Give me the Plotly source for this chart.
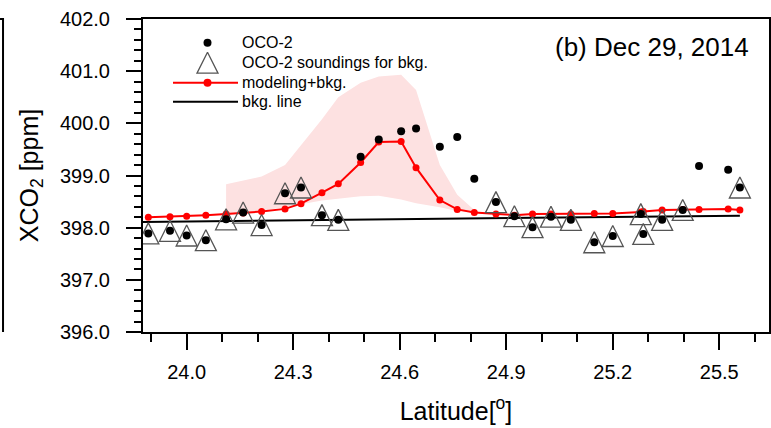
import plotly.graph_objects as go

# ---------------- data ----------------
lat = [23.892, 23.953, 24.000, 24.054, 24.111, 24.159, 24.211, 24.277, 24.322, 24.381,
       24.427, 24.490, 24.541, 24.604, 24.646, 24.713, 24.762, 24.810, 24.871, 24.923,
       24.974, 25.026, 25.082, 25.148, 25.200, 25.279, 25.286, 25.339, 25.397, 25.443,
       25.525, 25.558]
oco2 = [397.89, 397.94, 397.85, 397.76, 398.16, 398.29, 398.05, 398.66, 398.77, 398.24,
        398.15, 399.36, 399.69, 399.85, 399.90, 399.55, 399.74, 398.94, 398.49, 398.22,
        398.01, 398.21, 398.15, 397.72, 397.84, 398.26, 397.88, 398.15, 398.34, 399.18,
        399.11, 398.77]
model = [398.20, 398.21, 398.22, 398.24, 398.26, 398.28, 398.31, 398.36, 398.46, 398.67,
         398.84, 399.25, 399.64, 399.65, 399.15, 398.53, 398.35, 398.29, 398.26, 398.24,
         398.26, 398.26, 398.26, 398.27, 398.27, 398.30, 398.31, 398.34, 398.35, 398.35,
         398.36, 398.34]
is_bkg = [1, 1, 1, 1, 1, 1, 1, 1, 1, 1,
          1, 0, 0, 0, 0, 0, 0, 0, 1, 1,
          1, 1, 1, 1, 1, 1, 1, 1, 1, 0,
          0, 1]
band_lat = [24.111, 24.159, 24.211, 24.277, 24.322, 24.381, 24.427, 24.490, 24.541,
            24.604, 24.646, 24.713, 24.762, 24.810]
band_hi = [398.83, 398.90, 398.98, 399.20, 399.58, 400.08, 400.50, 400.78, 400.90,
           400.93, 400.64, 399.20, 398.63, 398.34]
band_lo = [398.25, 398.29, 398.32, 398.40, 398.45, 398.52, 398.56, 398.60, 398.61,
           398.54, 398.47, 398.39, 398.32, 398.29]
bkg_line_lat = [23.870, 25.558]
bkg_line_val = [398.11, 398.23]

x_ticks = [24.0, 24.3, 24.6, 24.9, 25.2, 25.5]
y_ticks = [396, 397, 398, 399, 400, 401, 402]
legend_labels = ["OCO-2", "OCO-2 soundings for bkg.", "modeling+bkg.", "bkg. line"]
title_text = "(b) Dec 29, 2014"

bkg_lat = [a for a, f in zip(lat, is_bkg) if f]
bkg_val = [v for v, f in zip(oco2, is_bkg) if f]

FONT = "Liberation Sans, Arial, Helvetica, sans-serif"
TRI = 21

fig = go.Figure()

# uncertainty band
fig.add_trace(go.Scatter(
    x=band_lat + band_lat[::-1], y=band_hi + band_lo[::-1],
    fill="toself", fillcolor="#fde1e1", line=dict(width=0),
    mode="lines", hoverinfo="skip", showlegend=False))

# background line
fig.add_trace(go.Scatter(x=bkg_line_lat, y=bkg_line_val, mode="lines",
                         line=dict(color="black", width=2), showlegend=False))

# modeling + bkg
fig.add_trace(go.Scatter(x=lat, y=model, mode="lines+markers",
                         line=dict(color="#ff0000", width=2),
                         marker=dict(color="#ff0000", size=7), showlegend=False))

# triangles for bkg soundings
fig.add_trace(go.Scatter(x=bkg_lat, y=bkg_val, mode="markers",
                         marker=dict(symbol="arrow-down", angle=180, standoff=TRI / 2,
                                     size=TRI, color="rgba(0,0,0,0)",
                                     line=dict(color="#555555", width=1.3)),
                         showlegend=False))

# OCO-2 dots
fig.add_trace(go.Scatter(x=lat, y=oco2, mode="markers",
                         marker=dict(color="black", size=8), showlegend=False))

# ---------- custom legend on pixel overlay axes ----------
leg_y = [42.7, 62.7, 82.7, 101.7]
fig.add_trace(go.Scatter(x=[207.5], y=[leg_y[0]], xaxis="x2", yaxis="y2", mode="markers",
                         marker=dict(color="black", size=8), showlegend=False))
fig.add_trace(go.Scatter(x=[207.5], y=[leg_y[1]], xaxis="x2", yaxis="y2", mode="markers",
                         marker=dict(symbol="arrow-down", angle=180, standoff=TRI / 2,
                                     size=TRI, color="rgba(0,0,0,0)",
                                     line=dict(color="#555555", width=1.3)),
                         showlegend=False))
fig.add_trace(go.Scatter(x=[173, 207.5, 238], y=[leg_y[2]] * 3, xaxis="x2", yaxis="y2",
                         mode="lines", line=dict(color="#ff0000", width=2), showlegend=False))
fig.add_trace(go.Scatter(x=[207.5], y=[leg_y[2]], xaxis="x2", yaxis="y2", mode="markers",
                         marker=dict(color="#ff0000", size=8), showlegend=False))
fig.add_trace(go.Scatter(x=[173, 238], y=[leg_y[3]] * 2, xaxis="x2", yaxis="y2",
                         mode="lines", line=dict(color="black", width=2), showlegend=False))

annotations = []
for lbl, yy in zip(legend_labels, leg_y):
    annotations.append(dict(x=240, y=yy, xref="x2", yref="y2", text=lbl, showarrow=False,
                            xanchor="left", yanchor="middle",
                            font=dict(family=FONT, size=16, color="black")))
annotations.append(dict(x=751, y=47, xref="x2", yref="y2", text=title_text, showarrow=False,
                        xanchor="right", yanchor="middle",
                        font=dict(family=FONT, size=26, color="black")))

axis_common = dict(showline=True, linecolor="black", linewidth=2, mirror=True,
                   ticks="outside", tickcolor="black", tickwidth=2,
                   showgrid=False, zeroline=False, automargin=False,
                   tickfont=dict(family=FONT, size=20, color="black"))

fig.update_layout(
    width=771, height=428,
    margin=dict(l=143, r=2, t=19, b=96),
    paper_bgcolor="white", plot_bgcolor="white",
    showlegend=False,
    xaxis=dict(range=[23.877, 25.64], tickmode="array", tickvals=x_ticks,
               ticktext=[f"{v:.1f}" for v in x_ticks], ticklen=16,
               ticklabelstandoff=5,
               minor=dict(dtick=0.1, tick0=24.0, ticks="outside", ticklen=8,
                          tickwidth=2, tickcolor="black"),
               title=dict(text="Latitude[<sup>o</sup>]", standoff=20,
                          font=dict(family=FONT, size=25, color="black")),
               **axis_common),
    yaxis=dict(range=[396, 402], tickmode="array", tickvals=y_ticks,
               ticktext=[f"{v:.1f}" for v in y_ticks], ticklen=15,
               ticklabelstandoff=12,
               minor=dict(dtick=0.2, tick0=396, ticks="outside", ticklen=7,
                          tickwidth=2, tickcolor="black"),
               title=dict(text="XCO<sub>2</sub> [ppm]", standoff=14,
                          font=dict(family=FONT, size=25, color="black")),
               **axis_common),
    xaxis2=dict(overlaying="x", range=[143, 769], visible=False, fixedrange=True),
    yaxis2=dict(overlaying="y", range=[332, 19], visible=False, fixedrange=True),
    annotations=annotations,
    shapes=[dict(type="path", xref="paper", yref="paper",
                 path="M -0.2284,1 L -0.2236,1 L -0.2236,0",
                 line=dict(color="black", width=2))],
)

fig.write_html("out.html")
